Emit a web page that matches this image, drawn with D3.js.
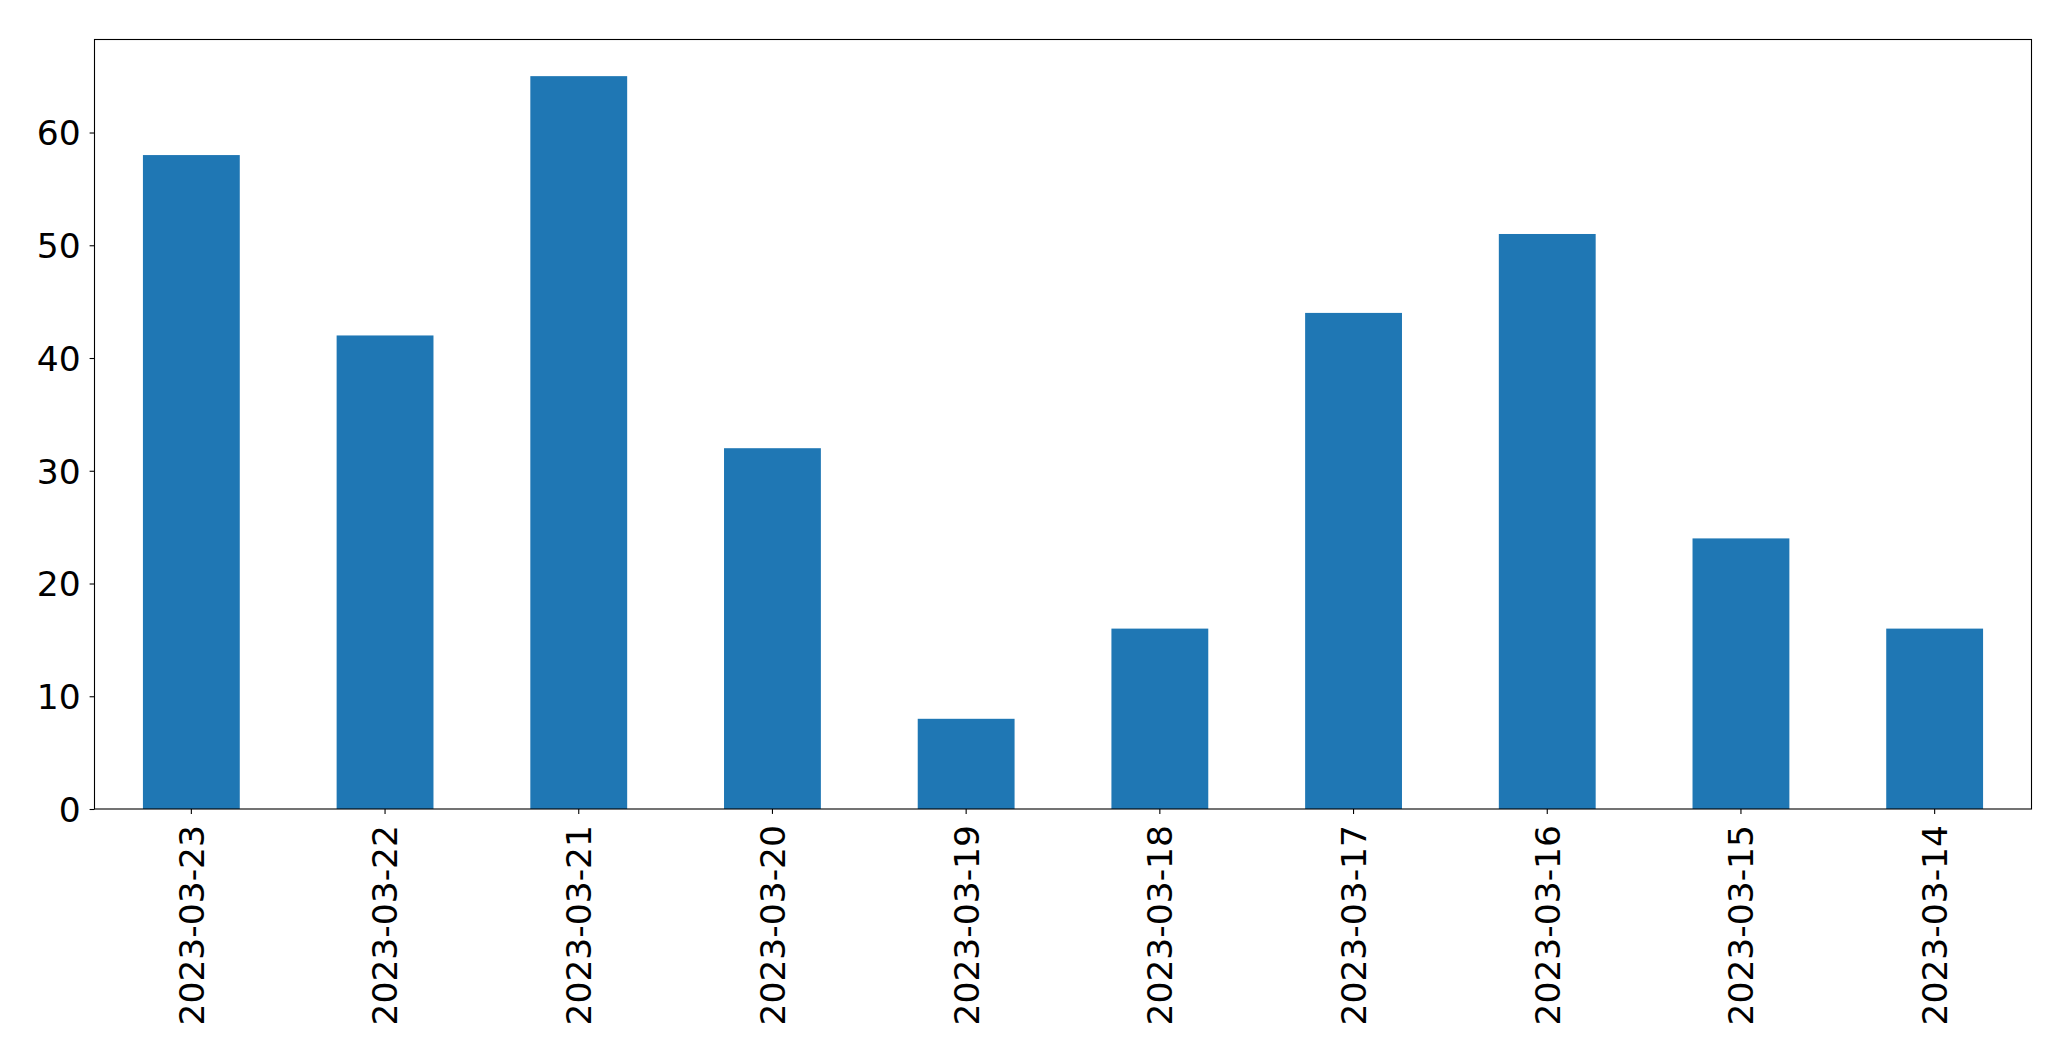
<!DOCTYPE html>
<html><head><meta charset="utf-8">
<script src="https://cdn.jsdelivr.net/npm/d3@7"></script>
<style>html,body{margin:0;padding:0;background:#fff;overflow:hidden}</style>
</head><body>
<svg id="chart" width="2071" height="1061"></svg>
<script>
const categories = ["2023-03-23","2023-03-22","2023-03-21","2023-03-20","2023-03-19","2023-03-18","2023-03-17","2023-03-16","2023-03-15","2023-03-14"];
const values = [58, 42, 65, 32, 8, 16, 44, 51, 24, 16];
const yTicks = [0, 10, 20, 30, 40, 50, 60];

const W = 2071, H = 1061;
const m = {left: 94.5, top: 39.5, right: 2031.5, bottom: 809};
const fs = 34.5;
const svg = d3.select("#chart");

const x = d3.scaleBand().domain(categories).range([m.left, m.right]).paddingInner(0.5).paddingOuter(0.25);
const y = d3.scaleLinear().domain([0, d3.max(values) * 1.05]).range([m.bottom, m.top]);

svg.append("rect").attr("width", W).attr("height", H).attr("fill", "#fff");

svg.append("g").selectAll("rect").data(values).join("rect")
  .attr("x", (d, i) => x(categories[i]))
  .attr("width", x.bandwidth())
  .attr("y", d => y(d))
  .attr("height", d => y(0) - y(d))
  .attr("fill", "#1f77b4");

// frame
svg.append("rect").attr("x", m.left).attr("y", m.top)
  .attr("width", m.right - m.left).attr("height", m.bottom - m.top)
  .attr("fill", "none").attr("stroke", "#000").attr("stroke-width", 1.1);

// y axis
const yAxis = svg.append("g").attr("transform", `translate(${m.left},0)`)
  .call(d3.axisLeft(y).tickValues(yTicks).tickSize(4.9).tickPadding(9).tickFormat(d3.format("d")));
yAxis.select(".domain").remove();
yAxis.selectAll(".tick line").attr("stroke", "#000").attr("stroke-width", 1.1);
yAxis.selectAll(".tick text").attr("font-family", "DejaVu Sans").attr("font-size", fs).attr("fill", "#000")
  .attr("dy", "0.36em");

// x axis
const xAxis = svg.append("g").attr("transform", `translate(0,${m.bottom})`)
  .call(d3.axisBottom(x).tickSize(4.9).tickPadding(0));
xAxis.select(".domain").remove();
xAxis.selectAll(".tick line").attr("stroke", "#000").attr("stroke-width", 1.1);
xAxis.selectAll(".tick text").attr("font-family", "DejaVu Sans").attr("font-size", fs).attr("fill", "#000")
  .attr("text-anchor", "end")
  .attr("y", 0).attr("dy", "0.36em")
  .attr("transform", "translate(0,16) rotate(-90)");
</script>
</body></html>
